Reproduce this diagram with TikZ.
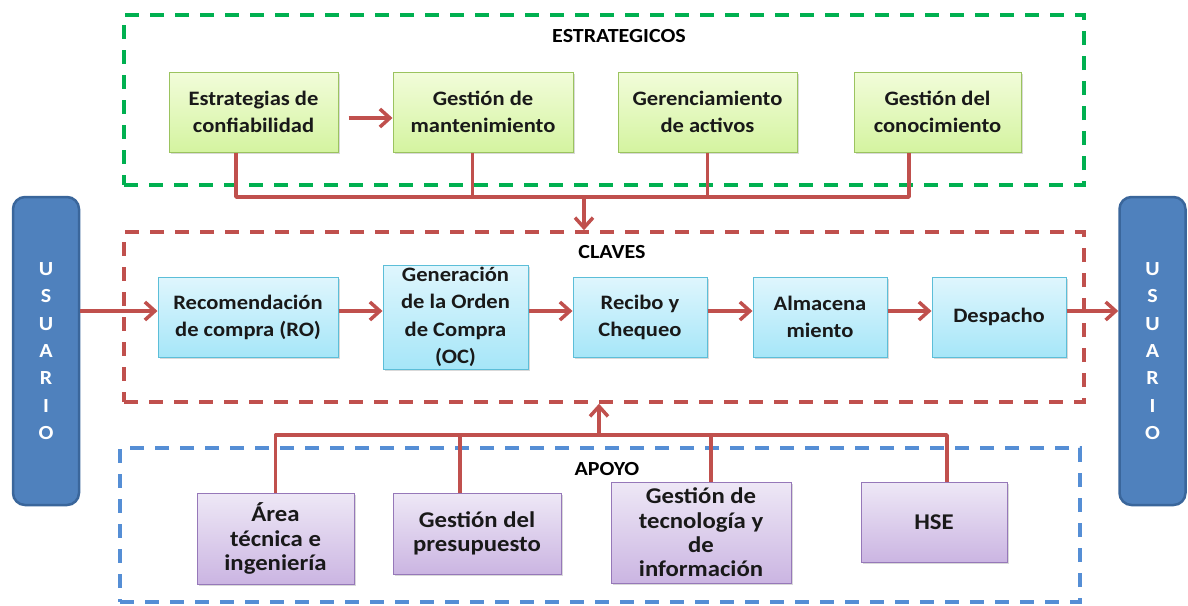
\documentclass[tikz,border=0pt]{standalone}
\usepackage{fontspec}
\setmainfont{Carlito}[FakeStretch=1.1]
\usepackage{xcolor}
\usepackage{tikz}
\usetikzlibrary{arrows.meta, positioning, calc, shadows}

\definecolor{flujo}{HTML}{C0504D}
\definecolor{verdezona}{HTML}{00B050}
\definecolor{azulzona}{HTML}{558ED5}
\definecolor{usuariofill}{HTML}{4F81BD}
\definecolor{usuarioline}{HTML}{3A669B}
\definecolor{verdeline}{HTML}{9BC35F}
\definecolor{verdetop}{HTML}{F2FCDA}
\definecolor{verdebot}{HTML}{D4F4A0}
\definecolor{celesteline}{HTML}{5CBED8}
\definecolor{celestetop}{HTML}{DFF6FD}
\definecolor{celestebot}{HTML}{A6E6F8}
\definecolor{lilaline}{HTML}{9678B9}
\definecolor{lilatop}{HTML}{EEE8F6}
\definecolor{lilabot}{HTML}{CBB5E2}

\begin{document}
\begin{tikzpicture}[x=1pt, y=-1pt, >={Straight Barb[length=10pt, width=18pt]},
            flow/.style={->, draw=flujo, line width=3.5pt},
            link/.style={draw=flujo, line width=3.5pt, line join=round},
            zone/.style={draw, rectangle, line width=3.5pt, dash pattern=on 14pt off 11pt},
            title/.style={font=\bfseries\fontsize{20}{22}\selectfont, text=black},
            proc/.style={draw, rectangle, align=center, line width=1pt, text=black!90,
                minimum height=80pt, inner sep=1pt, font=\bfseries\fontsize{20.5}{27}\selectfont,
                drop shadow={shadow xshift=1.5pt, shadow yshift=-2pt, opacity=0.3}},
            gbox/.style={proc, draw=verdeline, top color=verdetop, bottom color=verdebot},
            cbox/.style={proc, draw=celesteline, top color=celestetop, bottom color=celestebot},
            lbox/.style={proc, draw=lilaline, top color=lilatop, bottom color=lilabot,
                font=\bfseries\fontsize{22.5}{24.3}\selectfont},
            user/.style={draw=usuarioline, fill=usuariofill, rounded corners=12pt, line width=2.5pt,
                minimum width=66pt, minimum height=308pt, text=white, align=center,
                font=\bfseries\fontsize{20}{27.3}\selectfont}]

            \useasboundingbox (0,0) rectangle (1188,605);

            % zonas
            \node[zone, draw=verdezona, minimum width=960pt, minimum height=170pt] (estrat_zone) at (604,100) {};
            \node[zone, draw=flujo, minimum width=960pt, minimum height=170pt] (claves_zone) at (604,317) {};
            \node[zone, draw=azulzona, minimum width=960pt, minimum height=154pt] (apoyo_zone) at (600,525) {};
            \node[title] (estrat_title) at (619,36) {ESTRATEGICOS};
            \node[title] (claves_title) at (612,252) {CLAVES};
            \node[title] (apoyo_title) at (607,469) {APOYO};

            % usuario
            \node[user] (user_in) at (46,351) {U\\S\\U\\A\\R\\I\\O};
            \node[user] (user_out) at (1152.5,351) {U\\S\\U\\A\\R\\I\\O};

            % estrategicos
            \node[gbox, minimum width=169pt] (strat_conf) at (253.5,112) {Estrategias de\\confiabilidad};
            \node[gbox, minimum width=180pt, right=54pt of strat_conf] (gest_mant) {Gestión de\\mantenimiento};
            \node[gbox, minimum width=179pt, right=44pt of gest_mant] (ger_act) {Gerenciamiento\\de activos};
            \node[gbox, minimum width=167pt, right=56pt of ger_act] (gest_con) {Gestión del\\conocimiento};

            % claves
            \node[cbox, minimum width=180pt] (rec_compra) at (248,317) {Recomendación\\de compra (RO)};
            \node[cbox, minimum width=145pt, minimum height=104pt, inner sep=0pt,
                font=\bfseries\fontsize{20.5}{27.5}\selectfont, right=44pt of rec_compra] (gen_orden) {Generación\\de la Orden\\de Compra\\(OC)};
            \node[cbox, minimum width=134pt, right=44pt of gen_orden] (recibo) {Recibo y\\Chequeo};
            \node[cbox, minimum width=134pt, right=45pt of recibo] (almacen) {Almacena\\miento};
            \node[cbox, minimum width=134pt, right=44pt of almacen] (despacho) {Despacho};

            % apoyo
            \node[lbox, minimum width=157pt, minimum height=91pt] (area_tec) at (275.5,538.5) {Área\\técnica e\\ingeniería};
            \node[lbox, minimum width=168pt, minimum height=81pt] (presup) at (477,533.5) {Gestión del\\presupuesto};
            \node[lbox, minimum width=180pt, minimum height=101pt, inner sep=0pt] (tecno) at (701,532.5) {Gestión de\\tecnología y\\de\\información};
            \node[lbox, minimum width=146pt, minimum height=80pt] (hse) at (934,522) {HSE};

            \coordinate (top_bus) at (584,197);
            \coordinate (bot_bus) at (599,435);

            \draw[flow, shorten <=10pt] ([yshift=-6pt]strat_conf.east) -- ([yshift=-6pt]gest_mant.west);
            \draw[link] ([xshift=-17.5pt]strat_conf.south) |- ([xshift=-28.5pt]gest_con.south |- top_bus) -- ([xshift=-28.5pt]gest_con.south);
            \draw[link] ([xshift=-10.5pt]gest_mant.south) -- ([xshift=-10.5pt]gest_mant.south |- top_bus);
            \draw[link] (ger_act.south) -- (ger_act.south |- top_bus);
            \draw[flow] (top_bus) -- (top_bus |- claves_zone.north);

            \draw[flow] ([yshift=6pt]rec_compra.west -| user_in.east) -- ([yshift=6pt]rec_compra.west);
            \draw[flow] ([yshift=6pt]rec_compra.east) -- ([yshift=6pt]gen_orden.west);
            \draw[flow] ([yshift=6pt]gen_orden.east) -- ([yshift=6pt]recibo.west);
            \draw[flow] ([yshift=6pt]recibo.east) -- ([yshift=6pt]almacen.west);
            \draw[flow] ([yshift=6pt]almacen.east) -- ([yshift=6pt]despacho.west);
            \draw[flow] ([yshift=6pt]despacho.east) -- ([yshift=6pt]despacho.east -| user_out.west);

            \draw[link] (area_tec.north) |- ([xshift=13pt]hse.north |- bot_bus) -- ([xshift=13pt]hse.north);
            \draw[link] ([xshift=-17pt]presup.north) -- ([xshift=-17pt]presup.north |- bot_bus);
            \draw[link] ([xshift=10pt]tecno.north) -- ([xshift=10pt]tecno.north |- bot_bus);
            \draw[flow] (bot_bus) -- (bot_bus |- claves_zone.south);
        \end{tikzpicture}
\end{document}
